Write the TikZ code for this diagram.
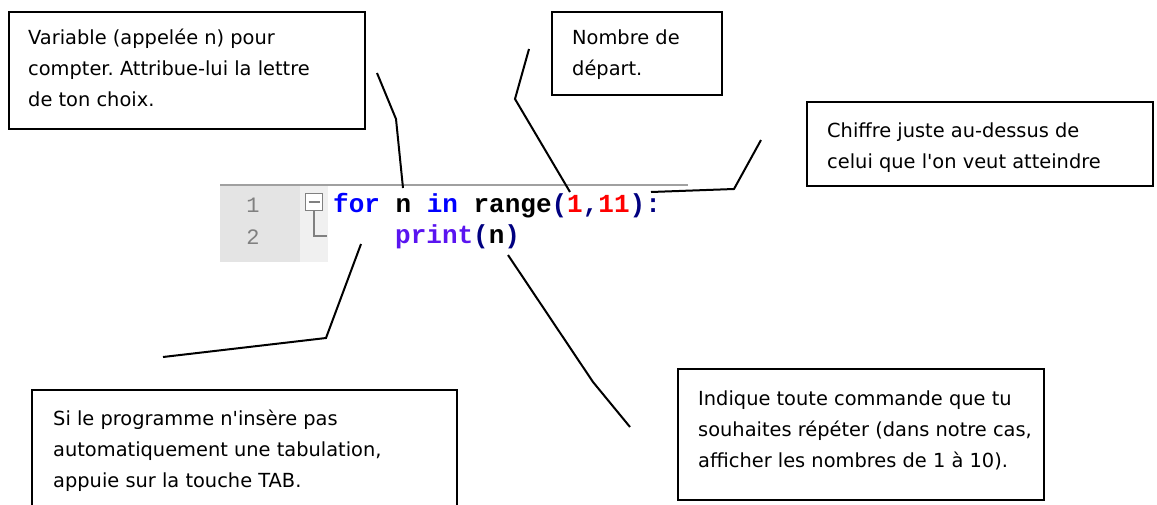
\documentclass[tikz,border=0pt]{standalone}
\usepackage{fontspec}
\newfontfamily\notefont{DejaVu Sans}
\newfontfamily\codefont{Liberation Mono}
\frenchspacing
\definecolor{kw}{RGB}{0,0,255}
\definecolor{op}{RGB}{0,0,128}
\definecolor{num}{RGB}{255,0,0}
\definecolor{fn}{RGB}{90,20,240}
\definecolor{gutter}{RGB}{228,228,228}
\definecolor{foldbg}{RGB}{240,240,240}
\definecolor{lineno}{RGB}{128,128,128}
\definecolor{rule}{RGB}{160,160,160}
\newcommand\firststrut{\rule{0pt}{18pt}}
\tikzset{
  callout/.style={draw=black, line width=2pt, fill=white, rectangle, inner sep=0pt, anchor=north west},
  note/.style={inner sep=0pt, anchor=north west, align=left, font=\notefont\fontsize{19.4}{31}\selectfont\frenchspacing},
  code/.style={inner sep=0pt, anchor=base west, font=\codefont\bfseries\fontsize{26}{30}\selectfont},
  linenum/.style={inner sep=0pt, anchor=base, text=lineno, font=\codefont\fontsize{22}{24}\selectfont},
  pointer/.style={draw=black, line width=2pt, line join=miter},
}
\begin{document}
\begin{tikzpicture}[x=1pt, y=-1pt]
\clip (0,0) rectangle (1157,504);

% editor panel
\fill[gutter] (220,186) rectangle (300,262);
\fill[foldbg] (300,186) rectangle (328,262);
\draw[rule, line width=2pt] (220,185) -- (688,185);
\node[linenum] (n1) at (253,212) {1};
\node[linenum] (n2) at (253,244) {2};
\node[draw=lineno, line width=1.2pt, fill=white, minimum size=17pt, inner sep=0pt] (fold) at (314,202) {};
\draw[lineno, line width=1.2pt] ([xshift=-5.5pt]fold.center) -- ([xshift=5.5pt]fold.center);
\coordinate (foldend) at (327,236);
\draw[lineno, line width=1.2pt] (fold.south) |- (foldend);

\node[code] (l1) at (333,212) {\textcolor{kw}{for} n \textcolor{kw}{in} range\textcolor{op}{(}\textcolor{num}{1}\textcolor{op}{,}\textcolor{num}{11}\textcolor{op}{):}};
\node[code] (l2) at (395,243) {\textcolor{fn}{print}\textcolor{op}{(}n\textcolor{op}{)}};

% callout boxes
\node[callout, minimum width=356pt, minimum height=117pt] (bvar) at (8,11) {};
\node[note] (tvar) at (28,26) {\firststrut Variable (appelée n) pour\\compter. Attribue-lui la lettre\\de ton choix.};

\node[callout, minimum width=170pt, minimum height=83pt] (bstart) at (551,11) {};
\node[note] (tstart) at (572,26) {\firststrut Nombre de\\départ.};

\node[callout, minimum width=346pt, minimum height=84pt] (bend) at (806,101) {};
\node[note] (tend) at (827,119) {\firststrut Chiffre juste au-dessus de\\celui que l'on veut atteindre};

\node[callout, minimum width=425pt, minimum height=130pt] (btab) at (31,389) {};
\node[note] (ttab) at (53,407) {\firststrut Si le programme n'insère pas\\automatiquement une tabulation,\\appuie sur la touche TAB.};

\node[callout, minimum width=366pt, minimum height=131pt] (brep) at (677,368) {};
\node[note] (trep) at (698,387) {\firststrut Indique toute commande que tu\\souhaites répéter (dans notre cas,\\afficher les nombres de 1 à 10).};

% pointer lines
\coordinate (p1a) at (377,73);  \coordinate (p1b) at (396,119); \coordinate (p1c) at (403,188);
\coordinate (p2a) at (529,49);  \coordinate (p2b) at (515,99);  \coordinate (p2c) at (570,192);
\coordinate (p3a) at (761,140); \coordinate (p3b) at (734,189); \coordinate (p3c) at (651,192);
\coordinate (p4a) at (361,244); \coordinate (p4b) at (326,338); \coordinate (p4c) at (163,357);
\coordinate (p5a) at (508,255); \coordinate (p5b) at (593,382); \coordinate (p5c) at (630,427);
\draw[pointer] (p1a) -- (p1b) -- (p1c);
\draw[pointer] (p2a) -- (p2b) -- (p2c);
\draw[pointer] (p3a) -- (p3b) -- (p3c);
\draw[pointer] (p4a) -- (p4b) -- (p4c);
\draw[pointer] (p5a) -- (p5b) -- (p5c);
\end{tikzpicture}
\end{document}
